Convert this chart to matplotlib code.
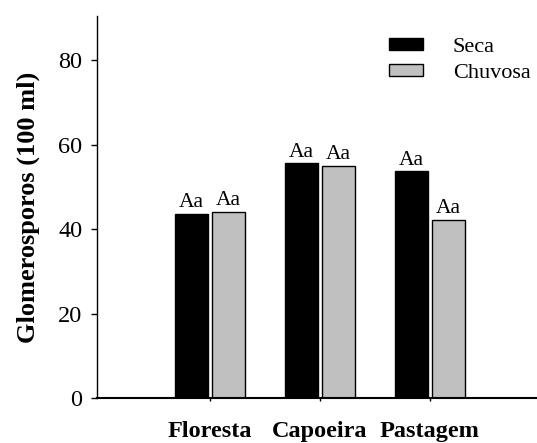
import matplotlib
matplotlib.use("Agg")
import matplotlib.pyplot as plt
import numpy as np

plt.rcParams['font.family'] = ['Liberation Serif', 'DejaVu Serif']

# data
areas = ['Floresta', 'Capoeira', 'Pastagem']
seca = [43.7, 55.6, 53.7]
chuvosa = [44.1, 55.1, 42.2]
letras_seca = ['Aa', 'Aa', 'Aa']
letras_chuvosa = ['Aa', 'Aa', 'Aa']

fig = plt.figure(figsize=(5.37, 4.43), dpi=100)
ax = fig.add_axes([0.180, 0.1005, 0.820, 0.8635])

x = np.arange(1, len(areas) + 1)
w = 0.30
off = 0.17
ax.bar(x - off, seca, w, color='black', edgecolor='black', linewidth=1, label='Seca')
ax.bar(x + off, chuvosa, w, color='#c0c0c0', edgecolor='black', linewidth=1, label='Chuvosa')

for xi, v, t in zip(x - off, seca, letras_seca):
    ax.text(xi, v + 1.6, t, ha='center', va='baseline', fontsize=15.5)
for xi, v, t in zip(x + off, chuvosa, letras_chuvosa):
    ax.text(xi, v + 1.6, t, ha='center', va='baseline', fontsize=15.5)

ax.set_xlim(-0.03, 3.973)
ax.set_ylim(0, 90.5)
ax.set_yticks([0, 20, 40, 60, 80])
ax.set_xticks(x)
ax.set_xticklabels(areas, fontweight='bold', fontsize=17.5)
ax.tick_params(axis='y', labelsize=17.5, length=4.3, width=1, pad=6)
ax.tick_params(axis='x', length=2.5, width=1, pad=14)
ax.set_ylabel('Glomerosporos (100 ml)', fontweight='bold', fontsize=19, labelpad=13)

ax.spines['top'].set_visible(False)
ax.spines['right'].set_visible(False)
ax.spines['left'].set_linewidth(1)
ax.spines['bottom'].set_linewidth(1.5)

ax.legend(loc='upper left', bbox_to_anchor=(389.3 / 537, (443 - 38) / 443),
          bbox_transform=fig.transFigure,
          frameon=False, fontsize=16, borderpad=0, borderaxespad=0,
          handlelength=1.53, handleheight=0.48, handletextpad=1.32, labelspacing=0.3)

fig.savefig('out.png', dpi=100)
